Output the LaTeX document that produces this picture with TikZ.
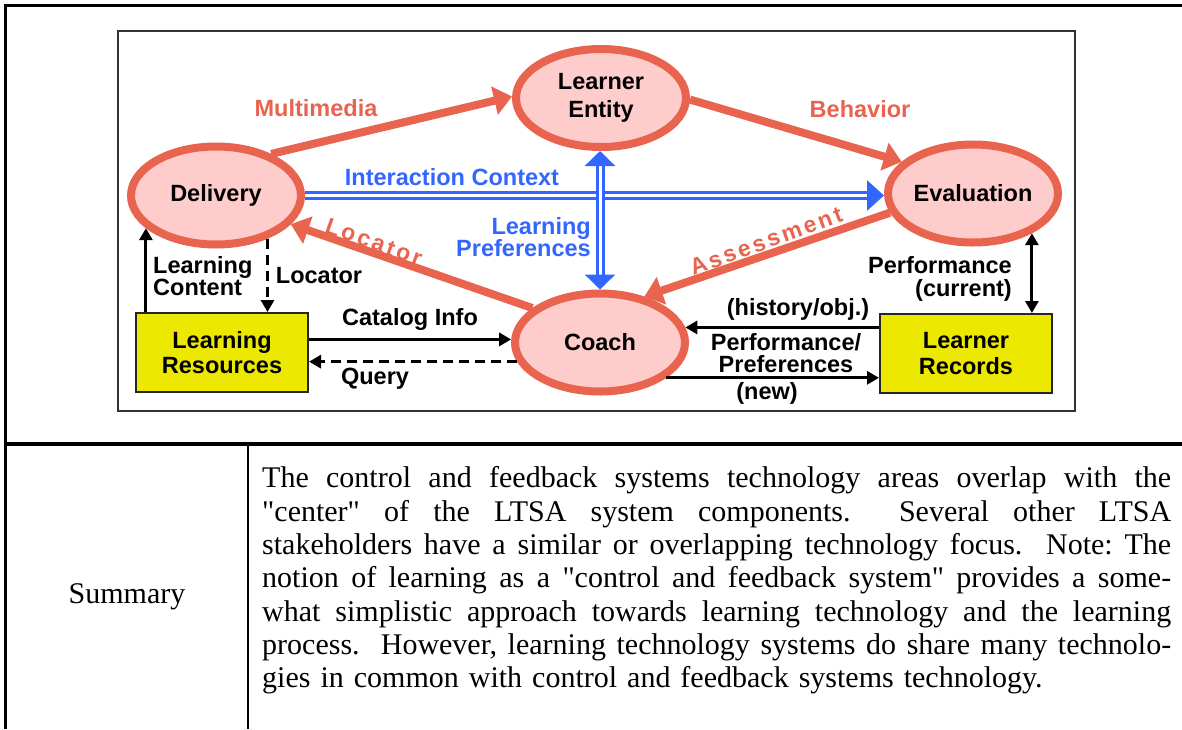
\documentclass[tikz,border=0pt]{standalone}
\usepackage{fontspec}
\setmainfont{Liberation Serif}[Ligatures=TeXOff]
\newfontfamily\arialfont{Liberation Sans}
\newfontfamily\arialspaced{Liberation Sans}[LetterSpace=12]
\usetikzlibrary{shapes.geometric, arrows.meta}
\definecolor{ltsared}{RGB}{232,100,78}
\definecolor{ltsapink}{RGB}{255,204,204}
\definecolor{ltsablue}{RGB}{51,102,255}
\definecolor{ltsayellow}{RGB}{236,232,0}
\newcommand{\lblfont}{\arialfont\bfseries\fontsize{23.5}{22.5}\selectfont}
\newcommand{\procfont}{\arialfont\bfseries\fontsize{23.5}{28}\selectfont}
\newcommand{\storefont}{\arialfont\bfseries\fontsize{23.5}{25.5}\selectfont}
\newcommand{\rotfont}{\arialspaced\bfseries\fontsize{23}{23}\selectfont}
\newcommand{\sumfont}{\fontsize{30}{33.3}\selectfont\frenchspacing}
\newcommand{\jline}[1]{\hbox to 909pt{\spaceskip=7.5pt plus 1fil\relax #1}}
\tikzstyle{proc}=[ellipse, draw=ltsared, line width=8pt, fill=ltsapink, minimum width=170pt, minimum height=98pt, inner sep=0pt, align=center, font=\procfont]
\tikzstyle{store}=[rectangle, draw=black!85, line width=2pt, fill=ltsayellow, minimum width=172pt, minimum height=79pt, inner sep=0pt, align=center, font=\storefont]
\tikzstyle{redflow}=[draw=ltsared, line width=8pt, -{Triangle[length=18pt,width=28pt]}]
\tikzstyle{blueflow}=[draw=ltsablue, line width=3pt, double=white, double distance=3pt]
\tikzstyle{blk}=[line width=3pt, -{Triangle[length=12pt,width=13pt]}]
\tikzstyle{lbl}=[font=\lblfont, inner sep=0pt, align=center]
\tikzstyle{rotlbl}=[font=\rotfont, text=ltsared, inner sep=0pt]

\begin{document}
\begin{tikzpicture}[x=1pt, y=-1pt]
        \useasboundingbox (0,0) rectangle (1182,729);
        % table rules
        \draw[line width=3.5pt] (4,5.5) -- (1182,5.5);
        \draw[line width=3.5pt] (5.5,4) -- (5.5,729);
        \draw[line width=4pt] (4,444) -- (1182,444);
        \draw[line width=2pt] (247.5,446) -- (247.5,729);
        \draw[line width=2pt, black!80] (117.5,30.5) rectangle (1075,410.5);
        % components
        \node[proc] (deliv) at (216,195.5) {Delivery};
        \node[proc] (entity) at (601,98) {Learner\\Entity};
        \node[proc] (eval) at (973,193.5) {Evaluation};
        \node[proc] (coach) at (600,342.5) {Coach};
        \node[store] (res) at (222,352.5) {Learning\\Resources};
        \node[store] (rec) at (966,353.5) {Learner\\Records};
        % red flows
        \draw[redflow] (deliv.37) -- (entity.179);
        \draw[redflow] (entity.-1) -- (eval.156);
        \draw[redflow] (coach.153) -- (deliv.-21);
        \draw[redflow] (eval.193) -- (coach.46);
        % blue flows
        \draw[blueflow, -{Triangle[length=17pt,width=30pt]}] (deliv.east) -- (deliv.east -| eval.west);
        \draw[blueflow, {Triangle[length=15pt,width=30pt]}-{Triangle[length=15pt,width=30pt]}] (coach.north) -- (coach.north |- entity.south);
        % black flows
        \draw[blk] (deliv.205 |- res.north) -- (deliv.205);
        \draw[blk, dash pattern=on 10pt off 6pt] (deliv.-40) -- (deliv.-40 |- res.north);
        \draw[blk] (res.east |- coach.178) -- (coach.178);
        \draw[blk, dash pattern=on 10pt off 6pt] (coach.193) -- (coach.193 -| res.east);
        \draw[blk] (coach.10 -| rec.west) -- (coach.10);
        \draw[blk] (coach.-28) -- (coach.-28 -| rec.west);
        \draw[blk, {Triangle[length=12pt,width=13pt]}-{Triangle[length=12pt,width=13pt]}] (eval.-34) -- (eval.-34 |- rec.north);
        % labels
        \node[lbl, text=ltsared] (mmlbl) at (316,108) {Multimedia};
        \node[lbl, text=ltsared] (behlbl) at (860,109) {Behavior};
        \node[lbl, text=ltsablue] (iclbl) at (452,177) {Interaction Context};
        \node[lbl, text=ltsablue, align=right, anchor=east] (lplbl) at (591,237) {Learning\\Preferences};
        \node[rotlbl, rotate=-20] (loclbl) at (374,242) {Locator};
        \node[rotlbl, rotate=20] (asslbl) at (766,241) {Assessment};
        \node[lbl, align=left, anchor=west] (lclbl) at (153,276) {Learning\\Content};
        \node[lbl] (loc2lbl) at (319,276) {Locator};
        \node[lbl] (catlbl) at (410,319) {Catalog Info};
        \node[lbl] (qlbl) at (375,379) {Query};
        \node[lbl] (histlbl) at (798,309) {(history/obj.)};
        \node[lbl] (pplbl) at (786,353) {Performance/\\Preferences};
        \node[lbl] (newlbl) at (767,393) {(new)};
        \node[lbl, align=right, anchor=east] (pclbl) at (1012,279) {Performance\\(current)};
        % summary row
        \node[font=\sumfont, anchor=base, inner sep=0pt] (sumlbl) at (127,603) {Summary};
        \node[font=\sumfont, anchor=north west, inner sep=0pt, text width=909pt] (sumtext) at (262,466.5) {%
\jline{The control and feedback systems technology areas overlap with the}
\jline{"center" of the LTSA system components.\ \ Several other LTSA}
\jline{stakeholders have a similar or overlapping technology focus.\ \ Note: The}
\jline{notion of learning as a "control and feedback system" provides a some-}
\jline{what simplistic approach towards learning technology and the learning}
\jline{process.\ \ However, learning technology systems do share many technolo-}
\hbox{gies in common with control and feedback systems technology.}};
    \end{tikzpicture}
\end{document}
